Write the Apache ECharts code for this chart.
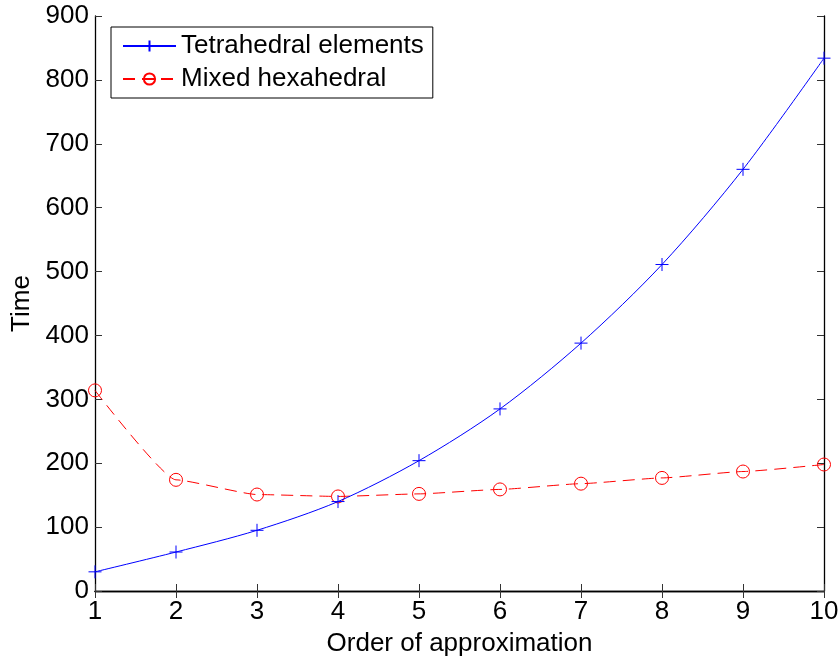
<!DOCTYPE html>
<html>
<head>
<meta charset="utf-8">
<script src="https://cdn.jsdelivr.net/npm/echarts@6/dist/echarts.min.js"></script>
<style>
  html, body { margin: 0; padding: 0; background: #fff; }
  #chart { width: 840px; height: 657px; }
</style>
</head>
<body>
<div id="chart"></div>
<script>
// Order of approximation (x) and run time for both meshes
const orders = [1, 2, 3, 4, 5, 6, 7, 8, 9, 10];
const tetraTime = [30, 61, 95, 140, 204, 285, 388, 511, 660, 834];
const hexaTime = [314, 174, 151, 148, 152, 159, 168, 177, 187, 198];
const yTicks = [0, 100, 200, 300, 400, 500, 600, 700, 800, 900];

const FONT = '"Liberation Sans", Arial, Helvetica, sans-serif';
const FS = 26;

const toPairs = (xs, ys) => xs.map((x, i) => [x, ys[i]]);

// plus-shaped marker drawn as a stroked path
const PLUS = 'path://M0,-1L0,1M-1,0L1,0';

const chart = echarts.init(document.getElementById('chart'), null, { renderer: 'canvas' });

const boxAxisCommon = {
  axisLine: { show: true, lineStyle: { color: '#000', width: 1.3 } },
  axisTick: { show: true, inside: true, length: 7, lineStyle: { color: '#333', width: 1 } },
  splitLine: { show: false }
};

chart.setOption({
  animation: false,
  backgroundColor: '#fff',
  grid: { left: 95, right: 16, top: 16, bottom: 66, containLabel: false, outerBoundsMode: 'none' },
  legend: {
    left: 111,
    top: 27,
    orient: 'vertical',
    backgroundColor: '#fff',
    borderColor: '#000',
    borderWidth: 1,
    borderRadius: 0,
    padding: [6, 9, 6, 11],
    itemWidth: 53,
    itemHeight: 14,
    itemGap: 7,
    textStyle: { fontFamily: FONT, fontSize: FS, color: '#000', lineHeight: 26 },
    data: ['Tetrahedral elements', 'Mixed hexahedral']
  },
  xAxis: [
    Object.assign({
      type: 'value',
      min: 1, max: 10, interval: 1,
      name: 'Order of approximation',
      nameLocation: 'middle',
      nameGap: 40,
      nameTextStyle: { fontFamily: FONT, fontSize: FS, color: '#000' },
      axisLabel: { fontFamily: FONT, fontSize: FS, color: '#000', margin: 8 }
    }, boxAxisCommon),
    Object.assign({
      type: 'value', position: 'top',
      min: 1, max: 10, interval: 1,
      axisLabel: { show: false }
    }, boxAxisCommon)
  ],
  yAxis: [
    Object.assign({
      type: 'value',
      min: yTicks[0], max: yTicks[yTicks.length - 1], interval: 100,
      name: 'Time',
      nameLocation: 'middle',
      nameGap: 60,
      nameRotate: 90,
      nameTextStyle: { fontFamily: FONT, fontSize: FS, color: '#000' },
      axisLabel: { fontFamily: FONT, fontSize: FS, color: '#000', margin: 6 }
    }, boxAxisCommon),
    Object.assign({
      type: 'value', position: 'right',
      min: yTicks[0], max: yTicks[yTicks.length - 1], interval: 100,
      axisLabel: { show: false }
    }, boxAxisCommon)
  ],
  series: [
    {
      name: 'Tetrahedral elements',
      type: 'line',
      data: toPairs(orders, tetraTime),
      smooth: 0.3,
      symbol: PLUS,
      symbolSize: 13,
      showAllSymbol: true,
      lineStyle: { color: '#0000ff', width: 1, type: 'solid' },
      itemStyle: { color: 'rgba(0,0,0,0)', borderColor: '#0000ff', borderWidth: 1 },
      z: 3
    },
    {
      name: 'Mixed hexahedral',
      type: 'line',
      data: toPairs(orders, hexaTime),
      smooth: 0.15,
      smoothMonotone: 'x',
      symbol: 'circle',
      symbolSize: 13,
      showAllSymbol: true,
      lineStyle: { color: '#ff0000', width: 1, type: [12, 7] },
      itemStyle: { color: 'rgba(0,0,0,0)', borderColor: '#ff0000', borderWidth: 1 },
      z: 2
    }
  ]
});
</script>
</body>
</html>
